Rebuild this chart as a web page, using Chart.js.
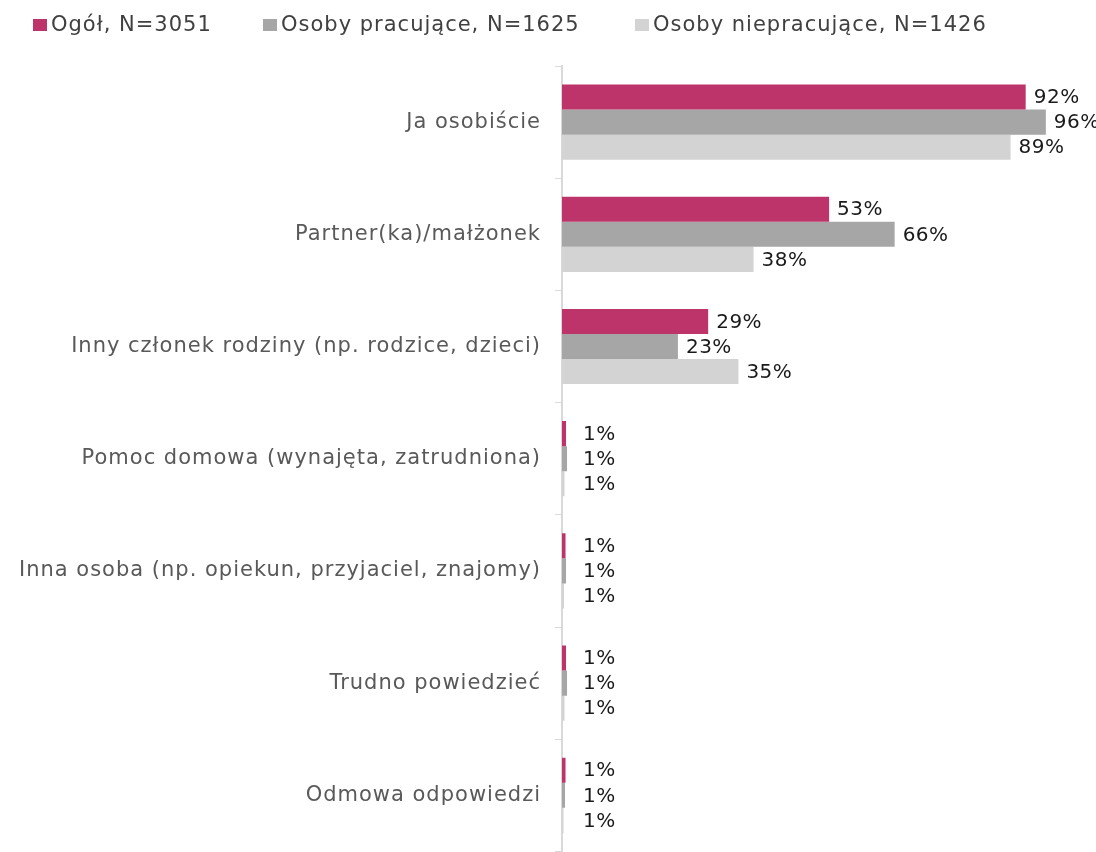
<!DOCTYPE html>
<html>
<head>
<meta charset="utf-8">
<script src="https://cdn.jsdelivr.net/npm/chart.js@4/dist/chart.umd.min.js"></script>
<style>
  body { margin: 0; background: #fff; overflow: hidden; }
  #wrap { width: 1096px; height: 852px; overflow: hidden; }
</style>
</head>
<body>
<!-- canvas is a bit taller than the page: Chart.js keeps ~26px under the last category -->
<div id="wrap"><canvas id="chart" width="1096" height="878"></canvas></div>
<script>
// categories and values (percent)
var categories = [
  "Ja osobiście",
  "Partner(ka)/małżonek",
  "Inny członek rodziny (np. rodzice, dzieci)",
  "Pomoc domowa (wynajęta, zatrudniona)",
  "Inna osoba (np. opiekun, przyjaciel, znajomy)",
  "Trudno powiedzieć",
  "Odmowa odpowiedzi"
];
var seriesNames = ["Ogół, N=3051", "Osoby pracujące, N=1625", "Osoby niepracujące, N=1426"];
var ogol = [92, 53, 29, 0.8, 0.7, 0.8, 0.7];
var pracujace = [96, 66, 23, 1.0, 0.8, 1.0, 0.6];
var niepracujace = [89, 38, 35, 0.5, 0.4, 0.5, 0.3];
var colors = ["#BC3469", "#A6A6A6", "#D4D3D4"];

var fontFamily = "'DejaVu Sans', sans-serif";
var fontSize = 21;

// wider letter spacing, closer to the original typeface
var spacing = {
  id: 'spacing',
  beforeDraw: function (chart) {
    chart.ctx.letterSpacing = "1px";
  }
};

// legend drawn at the top left, items placed like in the original
var topLegend = {
  id: 'topLegend',
  afterDraw: function (chart, args, opts) {
    var ctx = chart.ctx;
    ctx.save();
    ctx.font = fontSize + "px " + fontFamily;
    ctx.letterSpacing = "1px";
    ctx.textBaseline = "middle";
    ctx.textAlign = "left";
    chart.data.datasets.forEach(function (ds, i) {
      var x = opts.starts[i];
      ctx.fillStyle = ds.backgroundColor;
      ctx.fillRect(x, opts.y - 6, 14, 12);
      ctx.fillStyle = "#404040";
      ctx.fillText(ds.label, x + 18, opts.y + 1);
    });
    ctx.restore();
  }
};

// draws the value at the end of each bar
var valueLabels = {
  id: 'valueLabels',
  afterDatasetsDraw: function (chart) {
    var ctx = chart.ctx;
    var xScale = chart.scales.x;
    ctx.save();
    ctx.font = "20px " + fontFamily;
    ctx.letterSpacing = "0.5px";
    ctx.fillStyle = "#1a1a1a";
    ctx.textBaseline = "middle";
    ctx.textAlign = "left";
    chart.data.datasets.forEach(function (ds, i) {
      var meta = chart.getDatasetMeta(i);
      meta.data.forEach(function (bar, j) {
        var v = ds.data[j];
        var x = Math.max(bar.x + 8, xScale.getPixelForValue(0) + 21);
        ctx.fillText(Math.ceil(v) + "%", x, bar.y + 1);
      });
    });
    ctx.restore();
  }
};

var chart = new Chart(document.getElementById('chart'), {
  type: 'bar',
  data: {
    labels: categories,
    datasets: [
      { label: seriesNames[0], data: ogol, backgroundColor: colors[0] },
      { label: seriesNames[1], data: pracujace, backgroundColor: colors[1] },
      { label: seriesNames[2], data: niepracujace, backgroundColor: colors[2] }
    ]
  },
  options: {
    indexAxis: 'y',
    responsive: false,
    maintainAspectRatio: false,
    animation: false,
    layout: { autoPadding: false, padding: { left: 0, right: 30, top: 58, bottom: 0 } },
    datasets: {
      bar: { categoryPercentage: 0.67, barPercentage: 1.0 }
    },
    scales: {
      x: {
        position: 'top',
        min: 0,
        max: 100,
        grid: { display: false },
        border: { display: false },
        ticks: { display: false },
        afterFit: function (axis) { axis.height = 8; }
      },
      y: {
        grid: {
          drawOnChartArea: false,
          offset: true,
          tickLength: 7,
          color: '#D9D9D9',
          tickColor: '#D9D9D9'
        },
        border: { color: '#D9D9D9', width: 2 },
        ticks: {
          color: '#595959',
          padding: 14,
          font: { family: fontFamily, size: fontSize }
        },
        afterFit: function (axis) { axis.width = 562; }
      }
    },
    plugins: {
      legend: { display: false },
      topLegend: { starts: [33, 263, 635], y: 25 },
      tooltip: { enabled: false }
    }
  },
  plugins: [spacing, valueLabels, topLegend]
});
</script>
</body>
</html>
